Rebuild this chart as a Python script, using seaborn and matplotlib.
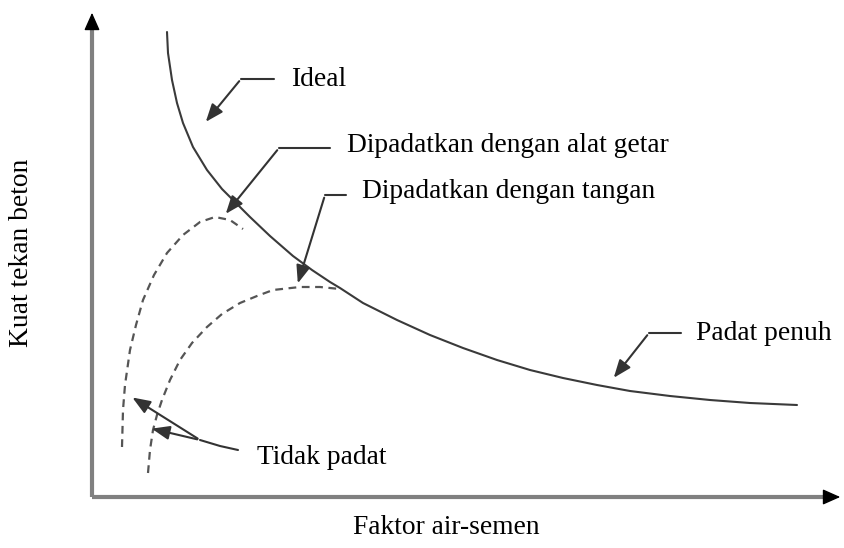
import matplotlib
matplotlib.use("Agg")
import matplotlib.pyplot as plt
import seaborn as sns
import pandas as pd

# ---- data (schematic curves, pixel space) ----
ideal_x = [167, 168, 172, 177, 183, 193, 207, 222, 237, 250, 270, 293, 312, 330, 340, 363, 397, 430, 463,
           497, 530, 563, 597, 630, 670, 710, 750, 797]
ideal_y = [32, 53, 80, 103, 123, 147, 170, 189, 204, 217, 236, 256, 270, 282, 288, 303, 320, 335, 348,
           360, 370, 378, 385, 391, 396, 400, 403, 405]

vib_x = [122, 123, 125, 130, 136, 143, 154, 167, 183, 200, 215, 230, 243]
vib_y = [447, 410, 385, 350, 325, 300, 275, 253, 235, 222, 217, 220, 229]

hand_x = [148, 150, 153, 157, 162, 170, 180, 192, 207, 222, 240, 257, 273, 300, 320, 340]
hand_y = [473, 450, 430, 415, 400, 380, 360, 343, 327, 314, 303, 296, 290, 287, 287, 289]

labels = ["Ideal", "Dipadatkan dengan alat getar", "Dipadatkan dengan tangan", "Padat penuh", "Tidak padat"]
x_label = "Faktor air-semen"
y_label = "Kuat tekan beton"

sns.set_theme(style="white")
plt.rcParams['font.family'] = ['Liberation Serif', 'DejaVu Serif']

fig = plt.figure(figsize=(8.44, 5.48), dpi=100)
ax = fig.add_axes([0, 0, 1, 1])
ax.set_xlim(0, 844)
ax.set_ylim(548, 0)
ax.axis("off")

df_ideal = pd.DataFrame({"x": ideal_x, "y": ideal_y})
df_vib = pd.DataFrame({"x": vib_x, "y": vib_y})
df_hand = pd.DataFrame({"x": hand_x, "y": hand_y})

sns.lineplot(data=df_ideal, x="x", y="y", sort=False, estimator=None, ax=ax, color="#3a3a3a", lw=1.5)
sns.lineplot(data=df_vib, x="x", y="y", sort=False, estimator=None, ax=ax, color="#555555", lw=1.6, linestyle=(0, (3.5, 2.5)))
sns.lineplot(data=df_hand, x="x", y="y", sort=False, estimator=None, ax=ax, color="#555555", lw=1.6, linestyle=(0, (3.5, 2.5)))

# axes with arrows
ax.plot([92, 92], [497, 22], color="#808080", lw=3, solid_capstyle="butt")
ax.plot([92, 830], [497, 497], color="#808080", lw=3, solid_capstyle="butt")
ax.annotate("", xy=(92, 10), xytext=(92, 30),
            arrowprops=dict(arrowstyle="-|>,head_length=0.9,head_width=0.4", color="black", lw=1))
ax.annotate("", xy=(843, 497), xytext=(823, 497),
            arrowprops=dict(arrowstyle="-|>,head_length=0.9,head_width=0.4", color="black", lw=1))

fs = 19.8
arrow_kw = dict(arrowstyle="-|>,head_length=0.9,head_width=0.35", color="#333333", lw=1.5)

def callout(text, tx, ty, path, tip):
    ax.text(tx, ty, text, fontsize=fs, ha="left", va="center", color="black")
    xs = [p[0] for p in path]
    ys = [p[1] for p in path]
    ax.plot(xs, ys, color="#333333", lw=1.5)
    ax.annotate("", xy=tip, xytext=path[-1], arrowprops=arrow_kw)

callout(labels[0], 291, 80, [(274, 79), (241, 79)], (204, 124))
callout(labels[1], 347, 146, [(330, 148), (279, 148)], (224, 216))
callout(labels[2], 362, 192, [(346, 195), (325, 195)], (297, 286))
callout(labels[3], 696, 333, [(681, 333), (649, 333)], (612, 380))

ax.text(257, 457, labels[4], fontsize=fs, ha="left", va="center", color="black")
ax.plot([238, 220, 200], [450, 446, 440], color="#333333", lw=1.5)
ax.annotate("", xy=(130, 396), xytext=(200, 440), arrowprops=arrow_kw)
ax.annotate("", xy=(149, 428), xytext=(200, 440), arrowprops=arrow_kw)

ax.text(446, 528, x_label, fontsize=fs, ha="center", va="center", color="black")
ax.text(22, 253, y_label, fontsize=fs, ha="center", va="center", rotation=90, color="black")

fig.savefig("out.png", dpi=100)
